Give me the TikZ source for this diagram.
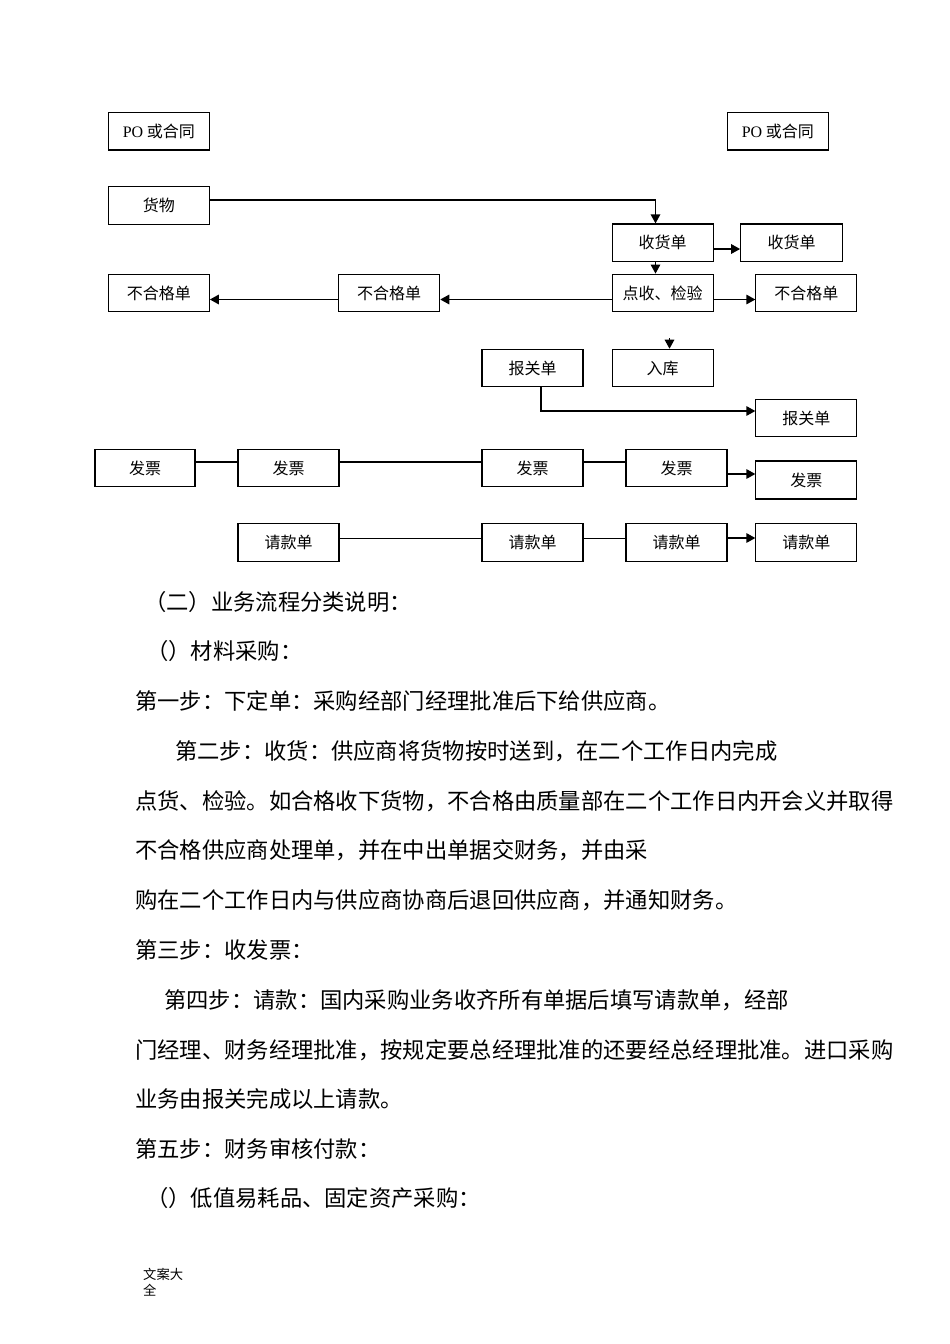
\documentclass[tikz,border=0pt]{standalone}
\usepackage{fontspec}
\setmainfont{Liberation Serif}
\newfontfamily\cjk{Noto Sans CJK SC}
\usetikzlibrary{arrows.meta}
\newcommand\bxfont{\cjk\fontsize{16}{18}\selectfont}
\newcommand\parafont{\cjk\fontsize{22.3}{27}\selectfont}
\begin{document}
\begin{tikzpicture}[x=1pt,y=-1pt,
  box/.style={draw, line width=1.1pt, minimum width=101pt, minimum height=37.5pt, inner sep=0pt, font=\bxfont},
  arr/.style={-{Triangle[length=9pt,width=9.5pt]}, line width=1.5pt},
  link/.style={line width=1.5pt},
  heavylink/.style={line width=2.4pt},
  thinlink/.style={line width=1pt},
  para/.style={anchor=west, inner sep=0pt, font=\parafont, text height=19.6pt, text depth=2.7pt}]
\useasboundingbox (0,0) rectangle (950,1344);
\fill[white] (0,0) rectangle (950,1344);
% boxes
\node[box] (poL) at (158.8,131.2) {{\rmfamily PO} 或合同};
\node[box] (poR) at (777.8,131.2) {{\rmfamily PO} 或合同};
\node[box] (goods) at (158.8,205.5) {货物};
\node[box] (recv) at (662.7,242.7) {收货单};
\node[box, minimum width=102pt] (recvR) at (791.7,242.7) {收货单};
\node[box] (check) at (662.7,292.9) {点收、检验};
\node[box] (ngL) at (158.8,292.9) {不合格单};
\node[box] (ngM) at (389.2,292.9) {不合格单};
\node[box] (ngR) at (806.4,292.9) {不合格单};
\node[box] (cust) at (532.5,368) {报关单};
\node[box] (stock) at (662.7,368) {入库};
\node[box] (custR) at (806.4,418) {报关单};
\node[box, minimum width=100pt] (inv1) at (145,468) {发票};
\node[box] (inv2) at (288.5,468) {发票};
\node[box] (inv3) at (532.5,468) {发票};
\node[box] (inv4) at (676.5,468) {发票};
\node[box] (inv5) at (806.4,480) {发票};
\draw[line width=2.2pt] (inv5.north west) -- (inv5.north east);
\draw[line width=2.2pt] (inv5.south west) -- (inv5.south east);
\node[box] (req1) at (288.5,542.5) {请款单};
\node[box] (req2) at (532.5,542.5) {请款单};
\node[box] (req3) at (676.5,542.5) {请款单};
\node[box] (req4) at (806.4,542.5) {请款单};
% connectors
\coordinate (k1) at (655.5,200);
\draw[arr] (goods.east |- k1) -- (k1) -- (k1 |- recv.north);
\draw[arr] (recv.south -| k1) -- (check.north -| k1);
\coordinate (r1) at (0,249);
\draw[arr] (recv.east |- r1) -- (recvR.west |- r1);
\coordinate (r2) at (0,299.5);
\draw[arr] (check.east |- r2) -- (ngR.west |- r2);
\draw[arr] (check.west |- r2) -- (ngM.east |- r2);
\draw[arr] (ngM.west |- r2) -- (ngL.east |- r2);
\coordinate (s0) at (669.5,338);
\draw[arr] (s0) -- (s0 |- stock.north);
\coordinate (k2) at (541,411);
\draw[arr] (cust.south -| k2) -- (k2) -- (k2 -| custR.west);
\coordinate (r3) at (0,462);
\draw[heavylink] (inv1.east |- r3) -- (inv2.west |- r3);
\draw[link] (inv2.east |- r3) -- (inv3.west |- r3);
\draw[heavylink] (inv3.east |- r3) -- (inv4.west |- r3);
\coordinate (r4) at (0,474);
\draw[arr] (inv4.east |- r4) -- (inv5.west |- r4);
\coordinate (r5) at (0,538);
\draw[thinlink] (req1.east |- r5) -- (req2.west |- r5);
\draw[thinlink] (req2.east |- r5) -- (req3.west |- r5);
\draw[arr] (req3.east |- r5) -- (req4.west |- r5);
% text
\node[para] (t1) at (144,601.7) {（二）业务流程分类说明：};
\node[para] (t2) at (146,651.5) {（）材料采购：};
\node[para] (t3) at (135,701.2) {第一步：下定单：采购经部门经理批准后下给供应商。};
\node[para] (t4) at (175,751) {第二步：收货：供应商将货物按时送到，在二个工作日内完成};
\node[para] (t5) at (135,800.8) {点货、检验。如合格收下货物，不合格由质量部在二个工作日内开会义并取得};
\node[para] (t6) at (135,850.5) {不合格供应商处理单，并在中出单据交财务，并由采};
\node[para] (t7) at (135,900.3) {购在二个工作日内与供应商协商后退回供应商，并通知财务。};
\node[para] (t8) at (135,950) {第三步：收发票：};
\node[para] (t9) at (164,999.8) {第四步：请款：国内采购业务收齐所有单据后填写请款单，经部};
\node[para] (t10) at (135,1049.6) {门经理、财务经理批准，按规定要总经理批准的还要经总经理批准。进口采购};
\node[para] (t11) at (135,1099.3) {业务由报关完成以上请款。};
\node[para] (t12) at (135,1149) {第五步：财务审核付款：};
\node[para] (t13) at (146,1198.5) {（）低值易耗品、固定资产采购：};
\node[anchor=north west, inner sep=0pt, align=left, font=\cjk\fontsize{13.3}{16}\selectfont] (foot) at (143,1268.5) {文案大\\全};
\end{tikzpicture}
\end{document}
